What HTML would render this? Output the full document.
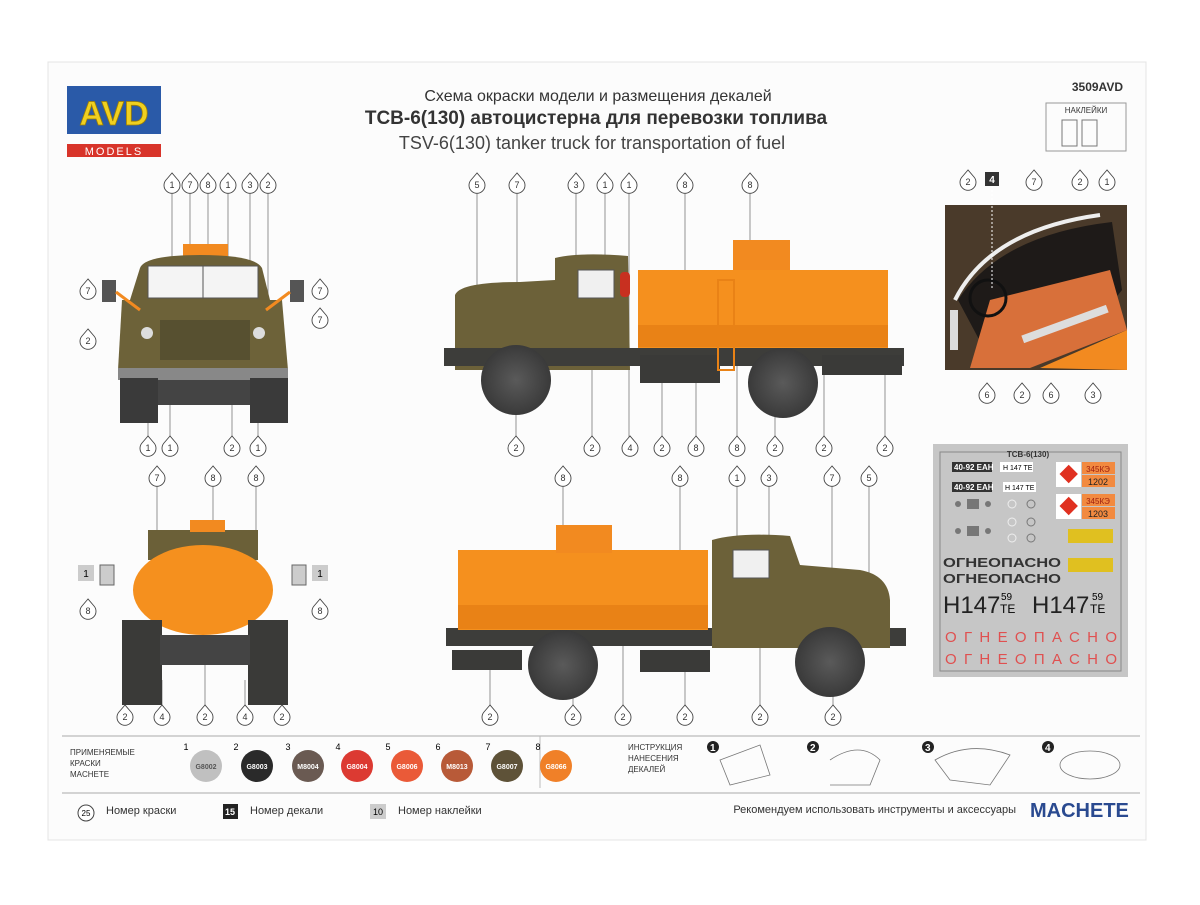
<!DOCTYPE html><html><head><meta charset="utf-8"><style>
body{margin:0;background:#fff;font-family:"Liberation Sans","Noto Sans CJK SC",sans-serif}
svg text{font-family:"Liberation Sans","Noto Sans CJK SC",sans-serif}
</style></head><body>
<svg width="1200" height="900" viewBox="0 0 1200 900" xmlns="http://www.w3.org/2000/svg">
<defs>
<g id="c"><path d="M0,-12 L-6,-5 A8,8 0 1,0 6,-5 Z" fill="#fff" stroke="#444" stroke-width="0.9"/></g>
<radialGradient id="wh" cx="50%" cy="50%" r="50%"><stop offset="0" stop-color="#5a5a5a"/><stop offset="1" stop-color="#3a3a3a"/></radialGradient>
</defs>
<rect width="1200" height="900" fill="#fff"/>
<rect x="48" y="62" width="1098" height="778" fill="#fcfcfc" stroke="#e4e4e4"/>
<!-- header -->
<rect x="67" y="86" width="94" height="48" fill="#2a5aa8"/>
<text x="114" y="125" text-anchor="middle" font-size="34" font-weight="bold" fill="#f0d020" stroke="#a08000" stroke-width="0.8">AVD</text>
<rect x="67" y="144" width="94" height="13" fill="#d8342a"/>
<text x="114" y="155" text-anchor="middle" font-size="11" fill="#fff" letter-spacing="2">MODELS</text>
<text x="598" y="101" text-anchor="middle" font-size="16" fill="#333">Схема окраски модели и размещения декалей</text>
<text x="596" y="124" text-anchor="middle" font-size="19" font-weight="bold" fill="#333">ТСВ-6(130) автоцистерна для перевозки топлива</text>
<text x="592" y="149" text-anchor="middle" font-size="18" fill="#444">TSV-6(130) tanker truck for transportation of fuel</text>
<text x="1123" y="91" text-anchor="end" font-size="12" font-weight="bold" fill="#333">3509AVD</text>
<rect x="1046" y="103" width="80" height="48" fill="none" stroke="#999"/>
<text x="1086" y="113" text-anchor="middle" font-size="8" fill="#333">НАКЛЕЙКИ</text>
<rect x="1062" y="120" width="15" height="26" fill="none" stroke="#777"/><rect x="1082" y="120" width="15" height="26" fill="none" stroke="#777"/>

<!-- leader lines -->
<g stroke="#666" stroke-width="0.7">
<line x1="477" y1="192" x2="477" y2="330"/><line x1="517" y1="192" x2="517" y2="305"/><line x1="576" y1="192" x2="576" y2="300"/><line x1="605" y1="192" x2="605" y2="308"/><line x1="629" y1="192" x2="629" y2="440"/><line x1="685" y1="192" x2="685" y2="278"/><line x1="750" y1="192" x2="750" y2="240"/>
<line x1="516" y1="380" x2="516" y2="440"/><line x1="592" y1="368" x2="592" y2="440"/><line x1="662" y1="376" x2="662" y2="440"/><line x1="696" y1="352" x2="696" y2="440"/><line x1="737" y1="280" x2="737" y2="440"/><line x1="775" y1="390" x2="775" y2="440"/><line x1="824" y1="350" x2="824" y2="440"/><line x1="885" y1="350" x2="885" y2="440"/>
<line x1="172" y1="192" x2="172" y2="290"/><line x1="190" y1="192" x2="190" y2="260"/><line x1="208" y1="192" x2="208" y2="245"/><line x1="228" y1="192" x2="228" y2="290"/><line x1="250" y1="192" x2="250" y2="300"/><line x1="268" y1="192" x2="268" y2="300"/>
<line x1="148" y1="420" x2="148" y2="440"/><line x1="170" y1="380" x2="170" y2="440"/><line x1="232" y1="400" x2="232" y2="440"/><line x1="258" y1="340" x2="258" y2="440"/>
<line x1="157" y1="485" x2="157" y2="560"/><line x1="213" y1="485" x2="213" y2="525"/><line x1="256" y1="485" x2="256" y2="570"/>
<line x1="563" y1="485" x2="563" y2="525"/><line x1="680" y1="485" x2="680" y2="560"/><line x1="737" y1="485" x2="737" y2="600"/><line x1="769" y1="485" x2="769" y2="590"/><line x1="832" y1="485" x2="832" y2="580"/><line x1="869" y1="485" x2="869" y2="600"/>
<line x1="490" y1="650" x2="490" y2="708"/><line x1="573" y1="680" x2="573" y2="708"/><line x1="623" y1="640" x2="623" y2="708"/><line x1="685" y1="650" x2="685" y2="708"/><line x1="760" y1="620" x2="760" y2="708"/><line x1="833" y1="680" x2="833" y2="708"/>
<line x1="125" y1="680" x2="125" y2="708"/><line x1="162" y1="680" x2="162" y2="708"/><line x1="205" y1="640" x2="205" y2="708"/><line x1="245" y1="680" x2="245" y2="708"/><line x1="282" y1="680" x2="282" y2="708"/>
</g>

<!-- front view -->
<rect x="183" y="244" width="45" height="12" fill="#f28a20"/>
<path d="M140 268 Q145 255 200 255 Q255 255 262 268 L270 300 L130 300 Z" fill="#6b6038"/>
<rect x="148" y="266" width="110" height="32" fill="#f4f4f4" stroke="#555"/>
<line x1="203" y1="266" x2="203" y2="298" stroke="#555"/>
<path d="M122 300 L282 300 L288 370 L118 370 Z" fill="#6d6239"/>
<rect x="160" y="320" width="90" height="40" fill="#575030"/>
<circle cx="147" cy="333" r="6" fill="#ddd"/><circle cx="259" cy="333" r="6" fill="#ddd"/>
<rect x="118" y="368" width="170" height="12" fill="#888"/>
<rect x="120" y="378" width="38" height="45" fill="#3a3a3a"/><rect x="250" y="378" width="38" height="45" fill="#3a3a3a"/>
<rect x="158" y="380" width="92" height="25" fill="#444"/>
<rect x="102" y="280" width="14" height="22" fill="#555"/><rect x="290" y="280" width="14" height="22" fill="#555"/>
<line x1="116" y1="292" x2="140" y2="310" stroke="#f28a20" stroke-width="3"/><line x1="290" y1="292" x2="266" y2="310" stroke="#f28a20" stroke-width="3"/>

<!-- side view top -->
<path d="M455 295 Q460 282 520 282 L555 280 L555 258 Q580 252 628 256 L630 370 L455 370 Z" fill="#6c6139"/>
<rect x="578" y="270" width="36" height="28" fill="#f0f0f0" stroke="#555"/>
<rect x="444" y="348" width="460" height="18" fill="#3d3d3a"/>
<rect x="638" y="270" width="250" height="78" fill="#f5901e"/>
<rect x="638" y="325" width="250" height="22" fill="#e98216"/>
<rect x="733" y="240" width="57" height="30" fill="#f28a20"/>
<rect x="620" y="272" width="10" height="25" rx="4" fill="#c83020"/>
<rect x="640" y="355" width="80" height="28" fill="#3a3a38"/>
<rect x="822" y="355" width="80" height="20" fill="#3a3a38"/>
<rect x="718" y="280" width="16" height="90" fill="none" stroke="#e98216" stroke-width="2"/>
<circle cx="516" cy="380" r="35" fill="url(#wh)"/><circle cx="783" cy="383" r="35" fill="url(#wh)"/>

<!-- rear view -->
<rect x="148" y="530" width="110" height="30" fill="#6b6038"/>
<rect x="190" y="520" width="35" height="12" fill="#f28a20"/>
<ellipse cx="203" cy="590" rx="70" ry="45" fill="#f5901e"/>
<rect x="122" y="620" width="40" height="85" fill="#3a3a38"/><rect x="248" y="620" width="40" height="85" fill="#3a3a38"/>
<rect x="160" y="635" width="90" height="30" fill="#444"/>
<rect x="100" y="565" width="14" height="20" fill="#ccc" stroke="#666"/><rect x="292" y="565" width="14" height="20" fill="#ccc" stroke="#666"/>
<rect x="78" y="565" width="16" height="16" fill="#ccc"/><text x="86" y="577" text-anchor="middle" font-size="10">1</text>
<rect x="312" y="565" width="16" height="16" fill="#ccc"/><text x="320" y="577" text-anchor="middle" font-size="10">1</text>

<!-- side view bottom -->
<rect x="446" y="628" width="460" height="18" fill="#3d3d3a"/>
<rect x="458" y="550" width="250" height="80" fill="#f5901e"/>
<rect x="458" y="605" width="250" height="24" fill="#e98216"/>
<rect x="556" y="525" width="56" height="28" fill="#f28a20"/>
<path d="M712 540 Q740 532 790 536 L800 565 L860 570 Q888 575 890 600 L890 648 L712 648 Z" fill="#6c6139"/>
<rect x="733" y="550" width="36" height="28" fill="#f0f0f0" stroke="#555"/>
<rect x="452" y="650" width="70" height="20" fill="#3a3a38"/><rect x="640" y="650" width="70" height="22" fill="#3a3a38"/>
<circle cx="563" cy="665" r="35" fill="url(#wh)"/><circle cx="830" cy="662" r="35" fill="url(#wh)"/>

<!-- cab photo -->
<rect x="945" y="205" width="182" height="165" fill="#4a3a2a"/>
<path d="M958 300 Q1000 235 1112 222 L1122 290 Q1060 370 990 360 Z" fill="#1e1a18"/>
<path d="M990 300 L1110 270 L1127 330 L1030 368 L970 368 Z" fill="#d8703a"/>
<path d="M1040 368 L1127 330 L1127 370 Z" fill="#f28a20"/>
<path d="M955 300 Q990 230 1100 215" stroke="#eee" stroke-width="4" fill="none"/>
<rect x="1020" y="320" width="90" height="8" fill="#ddd" transform="rotate(-20 1065 324)"/>
<rect x="950" y="310" width="8" height="40" fill="#ddd"/>
<circle cx="988" cy="298" r="18" fill="none" stroke="#111" stroke-width="3"/>
<rect x="985" y="172" width="14" height="14" fill="#333"/><text x="992" y="183" text-anchor="middle" font-size="10" fill="#fff" font-weight="bold">4</text>
<line x1="992" y1="186" x2="992" y2="290" stroke="#fff" stroke-dasharray="2,2"/>

<!-- decal sheet -->
<rect x="933" y="444" width="195" height="233" fill="#c6c6c6"/>
<rect x="940" y="452" width="181" height="219" fill="none" stroke="#888"/>
<text x="1028" y="457" text-anchor="middle" font-size="8" font-weight="bold" fill="#333">ТСВ-6(130)</text>
<rect x="952" y="462" width="40" height="10" fill="#333"/><text x="954" y="470" font-size="8" fill="#fff" font-weight="bold">40-92 EAH</text>
<rect x="952" y="482" width="40" height="10" fill="#333"/><text x="954" y="490" font-size="8" fill="#fff" font-weight="bold">40-92 EAH</text>
<rect x="1000" y="462" width="33" height="10" fill="#fff"/><text x="1003" y="470" font-size="7">H 147 TE</text>
<rect x="1003" y="482" width="33" height="10" fill="#fff"/><text x="1005" y="490" font-size="7">H 147 TE</text>
<g fill="#777"><circle cx="958" cy="504" r="3"/><rect x="967" y="499" width="12" height="10"/><circle cx="988" cy="504" r="3"/><circle cx="958" cy="531" r="3"/><rect x="967" y="526" width="12" height="10"/><circle cx="988" cy="531" r="3"/>
<circle cx="1031" cy="504" r="4" fill="none" stroke="#777"/><circle cx="1031" cy="522" r="4" fill="none" stroke="#777"/><circle cx="1031" cy="538" r="4" fill="none" stroke="#777"/>
<circle cx="1012" cy="504" r="4" fill="none" stroke="#eee"/><circle cx="1012" cy="522" r="4" fill="none" stroke="#eee"/><circle cx="1012" cy="538" r="4" fill="none" stroke="#eee"/></g>
<rect x="1056" y="462" width="25" height="25" fill="#fff"/><rect x="1062" y="467" width="13" height="13" fill="#e03020" transform="rotate(45 1068 474)"/>
<rect x="1082" y="462" width="33" height="12" fill="#f28a40"/><rect x="1082" y="475" width="33" height="12" fill="#f28a40"/>
<text x="1098" y="472" text-anchor="middle" font-size="8" fill="#a02010">345КЭ</text><text x="1098" y="485" text-anchor="middle" font-size="9" fill="#222">1202</text>
<rect x="1056" y="494" width="25" height="25" fill="#fff"/><rect x="1062" y="499" width="13" height="13" fill="#e03020" transform="rotate(45 1068 506)"/>
<rect x="1082" y="494" width="33" height="12" fill="#f28a40"/><rect x="1082" y="507" width="33" height="12" fill="#f28a40"/>
<text x="1098" y="504" text-anchor="middle" font-size="8" fill="#a02010">345КЭ</text><text x="1098" y="517" text-anchor="middle" font-size="9" fill="#222">1203</text>
<rect x="1068" y="529" width="45" height="14" fill="#e0c020"/><rect x="1068" y="558" width="45" height="14" fill="#e0c020"/>
<text x="943" y="567" font-size="13" font-weight="bold" fill="#333" textLength="118" lengthAdjust="spacingAndGlyphs">ОГНЕОПАСНО</text>
<text x="943" y="583" font-size="13" font-weight="bold" fill="#333" textLength="118" lengthAdjust="spacingAndGlyphs">ОГНЕОПАСНО</text>
<text x="943" y="613" font-size="24" fill="#222">H147</text><text x="1001" y="600" font-size="10">59</text><text x="1000" y="613" font-size="12">TE</text>
<text x="1032" y="613" font-size="24" fill="#222">H147</text><text x="1092" y="600" font-size="10">59</text><text x="1090" y="613" font-size="12">TE</text>
<text x="945" y="642" font-size="15" fill="#e05050" textLength="172" lengthAdjust="spacing">ОГНЕОПАСНО</text>
<text x="945" y="664" font-size="15" fill="#e05050" textLength="172" lengthAdjust="spacing">ОГНЕОПАСНО</text>

<!-- callouts -->
<g font-size="9" text-anchor="middle" fill="#333">
<g transform="translate(477,185)"><use href="#c"/><text y="3">5</text></g>
<g transform="translate(517,185)"><use href="#c"/><text y="3">7</text></g>
<g transform="translate(576,185)"><use href="#c"/><text y="3">3</text></g>
<g transform="translate(605,185)"><use href="#c"/><text y="3">1</text></g>
<g transform="translate(629,185)"><use href="#c"/><text y="3">1</text></g>
<g transform="translate(685,185)"><use href="#c"/><text y="3">8</text></g>
<g transform="translate(750,185)"><use href="#c"/><text y="3">8</text></g>
<g transform="translate(516,448)"><use href="#c"/><text y="3">2</text></g>
<g transform="translate(592,448)"><use href="#c"/><text y="3">2</text></g>
<g transform="translate(630,448)"><use href="#c"/><text y="3">4</text></g>
<g transform="translate(662,448)"><use href="#c"/><text y="3">2</text></g>
<g transform="translate(696,448)"><use href="#c"/><text y="3">8</text></g>
<g transform="translate(737,448)"><use href="#c"/><text y="3">8</text></g>
<g transform="translate(775,448)"><use href="#c"/><text y="3">2</text></g>
<g transform="translate(824,448)"><use href="#c"/><text y="3">2</text></g>
<g transform="translate(885,448)"><use href="#c"/><text y="3">2</text></g>
<g transform="translate(172,185)"><use href="#c"/><text y="3">1</text></g>
<g transform="translate(190,185)"><use href="#c"/><text y="3">7</text></g>
<g transform="translate(208,185)"><use href="#c"/><text y="3">8</text></g>
<g transform="translate(228,185)"><use href="#c"/><text y="3">1</text></g>
<g transform="translate(250,185)"><use href="#c"/><text y="3">3</text></g>
<g transform="translate(268,185)"><use href="#c"/><text y="3">2</text></g>
<g transform="translate(88,291)"><use href="#c"/><text y="3">7</text></g>
<g transform="translate(320,291)"><use href="#c"/><text y="3">7</text></g>
<g transform="translate(320,320)"><use href="#c"/><text y="3">7</text></g>
<g transform="translate(88,341)"><use href="#c"/><text y="3">2</text></g>
<g transform="translate(148,448)"><use href="#c"/><text y="3">1</text></g>
<g transform="translate(170,448)"><use href="#c"/><text y="3">1</text></g>
<g transform="translate(232,448)"><use href="#c"/><text y="3">2</text></g>
<g transform="translate(258,448)"><use href="#c"/><text y="3">1</text></g>
<g transform="translate(157,478)"><use href="#c"/><text y="3">7</text></g>
<g transform="translate(213,478)"><use href="#c"/><text y="3">8</text></g>
<g transform="translate(256,478)"><use href="#c"/><text y="3">8</text></g>
<g transform="translate(88,611)"><use href="#c"/><text y="3">8</text></g>
<g transform="translate(320,611)"><use href="#c"/><text y="3">8</text></g>
<g transform="translate(125,717)"><use href="#c"/><text y="3">2</text></g>
<g transform="translate(162,717)"><use href="#c"/><text y="3">4</text></g>
<g transform="translate(205,717)"><use href="#c"/><text y="3">2</text></g>
<g transform="translate(245,717)"><use href="#c"/><text y="3">4</text></g>
<g transform="translate(282,717)"><use href="#c"/><text y="3">2</text></g>
<g transform="translate(563,478)"><use href="#c"/><text y="3">8</text></g>
<g transform="translate(680,478)"><use href="#c"/><text y="3">8</text></g>
<g transform="translate(737,478)"><use href="#c"/><text y="3">1</text></g>
<g transform="translate(769,478)"><use href="#c"/><text y="3">3</text></g>
<g transform="translate(832,478)"><use href="#c"/><text y="3">7</text></g>
<g transform="translate(869,478)"><use href="#c"/><text y="3">5</text></g>
<g transform="translate(490,717)"><use href="#c"/><text y="3">2</text></g>
<g transform="translate(573,717)"><use href="#c"/><text y="3">2</text></g>
<g transform="translate(623,717)"><use href="#c"/><text y="3">2</text></g>
<g transform="translate(685,717)"><use href="#c"/><text y="3">2</text></g>
<g transform="translate(760,717)"><use href="#c"/><text y="3">2</text></g>
<g transform="translate(833,717)"><use href="#c"/><text y="3">2</text></g>
<g transform="translate(968,182)"><use href="#c"/><text y="3">2</text></g>
<g transform="translate(1034,182)"><use href="#c"/><text y="3">7</text></g>
<g transform="translate(1080,182)"><use href="#c"/><text y="3">2</text></g>
<g transform="translate(1107,182)"><use href="#c"/><text y="3">1</text></g>
<g transform="translate(987,395)"><use href="#c"/><text y="3">6</text></g>
<g transform="translate(1022,395)"><use href="#c"/><text y="3">2</text></g>
<g transform="translate(1051,395)"><use href="#c"/><text y="3">6</text></g>
<g transform="translate(1093,395)"><use href="#c"/><text y="3">3</text></g>
</g>

<!-- bottom legend -->
<line x1="62" y1="736" x2="1140" y2="736" stroke="#aaa"/>
<line x1="62" y1="793" x2="1140" y2="793" stroke="#aaa"/>
<line x1="540" y1="736" x2="540" y2="788" stroke="#bbb"/>
<text x="70" y="755" font-size="8" fill="#333">ПРИМЕНЯЕМЫЕ</text><text x="70" y="766" font-size="8" fill="#333">КРАСКИ</text><text x="70" y="777" font-size="8" fill="#333">MACHETE</text>
<g font-size="7" text-anchor="middle" font-weight="bold">
<circle cx="206" cy="766" r="16" fill="#c0c0c0"/><text x="206" y="769" fill="#555">G8002</text><text x="186" y="750" font-size="9" font-weight="normal">1</text>
<circle cx="257" cy="766" r="16" fill="#2a2a2a"/><text x="257" y="769" fill="#fff">G8003</text><text x="236" y="750" font-size="9" font-weight="normal">2</text>
<circle cx="308" cy="766" r="16" fill="#6a5a52"/><text x="308" y="769" fill="#fff">M8004</text><text x="288" y="750" font-size="9" font-weight="normal">3</text>
<circle cx="357" cy="766" r="16" fill="#dc3a32"/><text x="357" y="769" fill="#fff">G8004</text><text x="338" y="750" font-size="9" font-weight="normal">4</text>
<circle cx="407" cy="766" r="16" fill="#ea5a38"/><text x="407" y="769" fill="#fff">G8006</text><text x="388" y="750" font-size="9" font-weight="normal">5</text>
<circle cx="457" cy="766" r="16" fill="#b85a38"/><text x="457" y="769" fill="#fff">M8013</text><text x="438" y="750" font-size="9" font-weight="normal">6</text>
<circle cx="507" cy="766" r="16" fill="#5e5238"/><text x="507" y="769" fill="#fff">G8007</text><text x="488" y="750" font-size="9" font-weight="normal">7</text>
<circle cx="556" cy="766" r="16" fill="#f08028"/><text x="556" y="769" fill="#fff">G8066</text><text x="538" y="750" font-size="9" font-weight="normal">8</text>
</g>
<text x="628" y="750" font-size="8" fill="#333">ИНСТРУКЦИЯ</text><text x="628" y="761" font-size="8" fill="#333">НАНЕСЕНИЯ</text><text x="628" y="772" font-size="8" fill="#333">ДЕКАЛЕЙ</text>
<g fill="none" stroke="#777" stroke-width="0.8">
<path d="M720 760 L760 745 L770 775 L730 785 Z"/><path d="M830 760 Q860 740 880 760 L870 785 L830 785"/><path d="M935 760 Q970 740 1010 755 L990 785 L950 780 Z"/><ellipse cx="1090" cy="765" rx="30" ry="14"/>
</g>
<g font-size="10" font-weight="bold" fill="#fff"><circle cx="713" cy="747" r="6" fill="#222"/><text x="710" y="751">1</text><circle cx="813" cy="747" r="6" fill="#222"/><text x="810" y="751">2</text><circle cx="928" cy="747" r="6" fill="#222"/><text x="925" y="751">3</text><circle cx="1048" cy="747" r="6" fill="#222"/><text x="1045" y="751">4</text></g>
<g transform="translate(86,813)"><circle r="8" fill="#fff" stroke="#444"/><text y="3" text-anchor="middle" font-size="8">25</text></g>
<text x="106" y="814" font-size="11" fill="#333">Номер краски</text>
<rect x="223" y="804" width="15" height="15" fill="#222"/><text x="230" y="815" text-anchor="middle" font-size="9" fill="#fff" font-weight="bold">15</text>
<text x="250" y="814" font-size="11" fill="#333">Номер декали</text>
<rect x="370" y="804" width="16" height="15" fill="#ccc"/><text x="378" y="815" text-anchor="middle" font-size="9">10</text>
<text x="398" y="814" font-size="11" fill="#333">Номер наклейки</text>
<text x="1016" y="813" text-anchor="end" font-size="11" fill="#333">Рекомендуем использовать инструменты и аксессуары</text>
<text x="1030" y="817" font-size="20" font-weight="bold" fill="#2a4a90">MACHETE</text>
</svg>
</body></html>
